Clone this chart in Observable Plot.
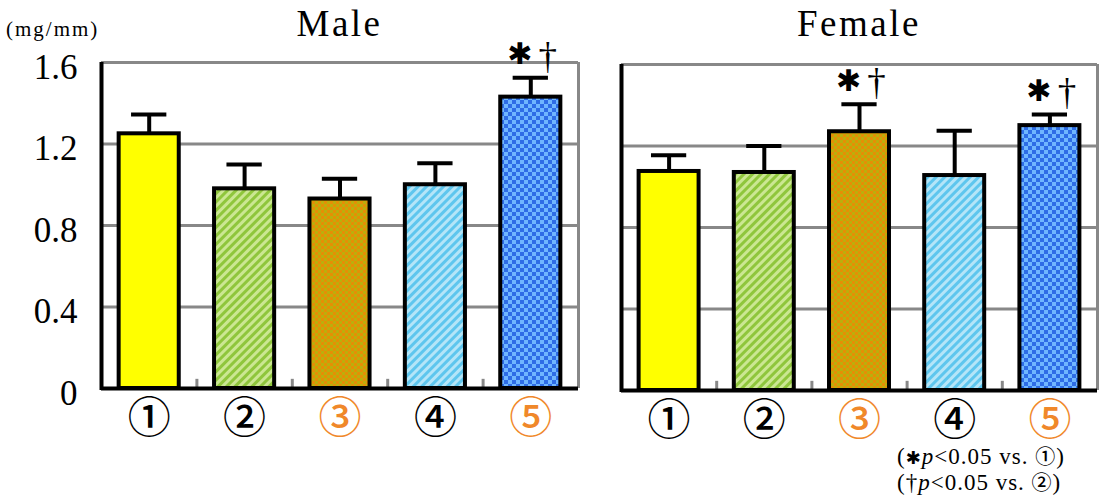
<!DOCTYPE html>
<html><head><meta charset="utf-8">
<script src="https://cdn.jsdelivr.net/npm/d3@7"></script>
<script src="https://cdn.jsdelivr.net/npm/@observablehq/plot@0.6"></script>
<style>
body{margin:0;background:#fff;}
#wrap{position:relative;width:1107px;height:499px;overflow:hidden;background:#fff;font-family:"Liberation Serif",serif;color:#000;}
.abs{position:absolute;white-space:nowrap;z-index:5;}
.title{font-size:37px;line-height:37px;letter-spacing:2.5px;transform:translateX(-50%);top:5px;}
#unit{left:6px;top:19px;font-size:21px;line-height:21px;letter-spacing:2px;}
#note{left:897px;top:444px;font-size:23px;line-height:25px;letter-spacing:1px;}
#note .s{font-family:"DejaVu Sans";font-size:18px;}
#note .c{font-family:"Noto Sans CJK JP";font-size:20px;font-weight:500;line-height:18px;}
.panel{position:absolute;z-index:1;}
</style></head><body>
<svg width="0" height="0" style="position:absolute">
<defs>
<pattern id="pGreen" patternUnits="userSpaceOnUse" width="6" height="6" patternTransform="rotate(45)">
<rect width="6" height="6" fill="#cbe792"/><rect width="3" height="6" fill="#8fc63c"/></pattern>
<pattern id="pOrange" patternUnits="userSpaceOnUse" width="6" height="6">
<rect width="6" height="6" fill="#e58f05"/><rect width="3" height="3" fill="#bcae0c"/><rect x="3" y="3" width="3" height="3" fill="#bcae0c"/></pattern>
<pattern id="pBlue" patternUnits="userSpaceOnUse" width="6" height="6" patternTransform="rotate(45)">
<rect width="6" height="6" fill="#b4e5f8"/><rect width="3" height="6" fill="#5ec6ee"/></pattern>
<pattern id="pNavy" patternUnits="userSpaceOnUse" width="8" height="8">
<rect width="8" height="8" fill="#2e6de6"/><rect width="4" height="4" fill="#6fb6ff"/><rect x="4" y="4" width="4" height="4" fill="#6fb6ff"/></pattern>
</defs></svg>
<div id="wrap">
  <div id="left" class="panel" style="left:0;top:0"></div>
  <div id="right" class="panel" style="left:600px;top:2px"></div>
  <div class="abs" id="unit">(mg/mm)</div>
  <div class="abs title" style="left:339.5px">Male</div>
  <div class="abs title" style="left:859px">Female</div>
  <div class="abs" id="note">(<span class="s">✱</span><i>p</i>&lt;0.05 vs. <span class="c">①</span>)<br>(†<i>p</i>&lt;0.05 vs. <span class="c">②</span>)</div>
</div>
<script>
const categories = ["①","②","③","④","⑤"];
const labelColors = ["#000000","#000000","#f0882a","#000000","#f0882a"];
const maleMean = [1.25, 0.98, 0.93, 1.00, 1.43];
const maleSD   = [0.095, 0.12, 0.10, 0.105, 0.095];
const femaleMean = [1.075, 1.07, 1.27, 1.055, 1.30];
const femaleSD   = [0.08, 0.13, 0.135, 0.22, 0.055];
const maleStar   = [false, false, false, false, true];
const maleDagger = [false, false, false, false, true];
const femaleStar   = [false, false, true, false, true];
const femaleDagger = [false, false, true, false, true];
const yTicks = [0, 0.4, 0.8, 1.2, 1.6];
const yTickLabels = ["0", "0.4", "0.8", "1.2", "1.6"];

const barFills = ["#ffff00", "url(#pGreen)", "url(#pOrange)", "url(#pBlue)", "url(#pNavy)"];

function rows(mean, sd, star, dag) {
  return categories.map((c, i) => ({
    i, label: c, color: labelColors[i], mean: mean[i], top: mean[i] + sd[i],
    star: star[i], dag: dag[i], fill: barFills[i]
  }));
}

function panel(data, opts) {
  const HW = 0.315, CAP = 0.185;
  const marks = [
    Plot.ruleY(yTicks.filter(d => d > 0), {x1: -0.5, x2: 4.5, stroke: "#888", strokeWidth: 3}),
    Plot.ruleX([4.5], {y1: 0, y2: 1.6, stroke: "#888", strokeWidth: 3}),
    Plot.ruleX([0.5, 1.5, 2.5, 3.5], {y1: 0, y2: 0.045, stroke: "#888", strokeWidth: 3}),
    Plot.ruleX(data, {x: "i", y1: "mean", y2: "top", stroke: "black", strokeWidth: 4}),
    Plot.ruleY(data, {y: "top", x1: d => d.i - CAP, x2: d => d.i + CAP, stroke: "black", strokeWidth: 4}),
    Plot.rect(data, {x1: d => d.i - HW, x2: d => d.i + HW, y1: 0, y2: "mean", fill: "fill", stroke: "black", strokeWidth: 4}),
    Plot.ruleY([0], {x1: -0.5, x2: 4.5, stroke: "black", strokeWidth: 4}),
    Plot.ruleX([-0.5], {y1: -0.01, y2: 1.6, stroke: "black", strokeWidth: 4}),
    Plot.text(data, {x: "i", y: 0, dy: 31, text: "label", fill: "color", fontSize: 43, fontWeight: 500, fontFamily: "Noto Sans CJK JP"}),
    Plot.text(data.filter(d => d.star), {x: "i", y: "top", dx: -11, dy: -23, text: () => "✱", fontSize: 30, fontFamily: "DejaVu Sans"}),
    Plot.text(data.filter(d => d.dag), {x: "i", y: "top", dx: 17, dy: -21, text: () => "†", fontSize: 37, fontFamily: "Liberation Serif"})
  ];
  if (opts.axis) {
    marks.push(Plot.axisY(yTicks, {tickSize: 0, tickPadding: 24, fontSize: 35, dy: 5, letterSpacing: 2.5,
      tickFormat: d => yTickLabels[yTicks.indexOf(d)]}));
  }
  return Plot.plot({
    width: opts.width, height: 440,
    marginLeft: opts.ml, marginRight: opts.mr, marginTop: 62, marginBottom: 52,
    x: {domain: [-0.5, 4.5], axis: null},
    y: {domain: [0, 1.6], axis: opts.axis ? undefined : null},
    color: {type: "identity"},
    style: {fontFamily: "Liberation Serif", background: "transparent", color: "black", overflow: "visible"},
    marks
  });
}

document.getElementById("left").append(panel(rows(maleMean, maleSD, maleStar, maleDagger), {width: 600, ml: 101, mr: 22, axis: true}));
document.getElementById("right").append(panel(rows(femaleMean, femaleSD, femaleStar, femaleDagger), {width: 507, ml: 21, mr: 10, axis: false}));
</script>
</body></html>
